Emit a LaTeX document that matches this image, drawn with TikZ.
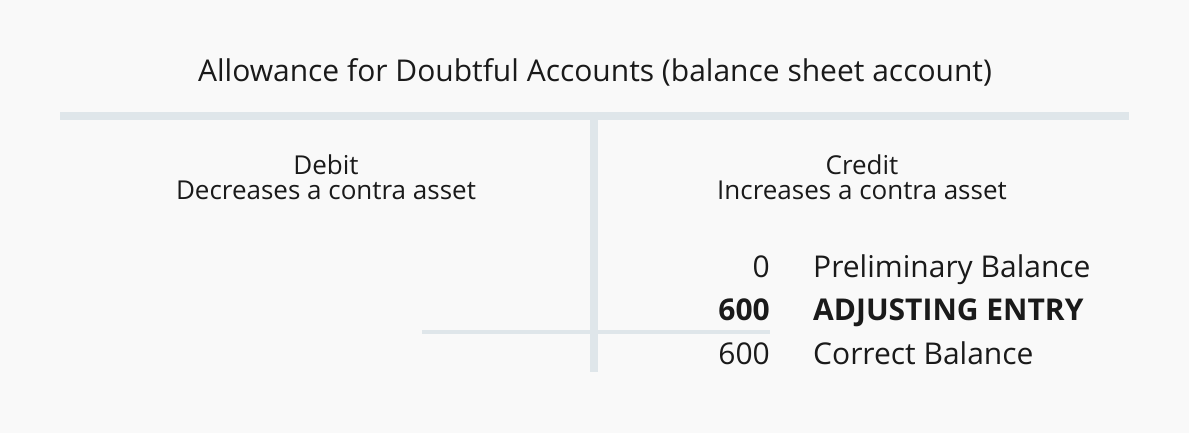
\documentclass[tikz,border=0pt]{standalone}
\usepackage{fontspec}
\setmainfont{Open Sans}
\definecolor{pagebg}{HTML}{F9F9F9}
\definecolor{tacct}{HTML}{DFE6EA}
\definecolor{ink}{HTML}{1A1A1A}

\begin{document}
\begin{tikzpicture}[x=1pt,y=-1pt,
    tline/.style={color=tacct,line cap=butt},
    head/.style={anchor=base,inner sep=0pt,text=ink,font=\fontsize{26}{30}\selectfont},
    num/.style={anchor=base east,inner sep=0pt,text=ink,font=\fontsize{30}{36}\selectfont},
    lbl/.style={anchor=base west,inner sep=0pt,text=ink,font=\fontsize{30}{36}\selectfont}]
      \fill[pagebg] (0,0) rectangle (1189,433);
      \useasboundingbox (0,0) rectangle (1189,433);
      % the T
      \coordinate (topleft) at (60,116);
      \coordinate (topright) at (1129,116);
      \coordinate (stemtop) at (594,112);
      \coordinate (stembot) at (594,372);
      \coordinate (sumleft) at (422,332);
      \coordinate (sumright) at (770,332);
      \draw[tline,line width=8pt] (topleft) -- (topright);
      \draw[tline,line width=8pt] (stemtop) -- (stembot);
      \draw[tline,line width=4pt] (sumleft) -- (sumright);
      % headings
      \node[head,font=\fontsize{30}{36}\selectfont] (title) at (595,82)
        {Allowance for Doubtful Accounts (balance sheet account)};
      \node[head] (debit) at (326,175) {Debit};
      \node[head] (debitnote) at (326,200) {Decreases a contra asset};
      \node[head] (credit) at (862,175) {Credit};
      \node[head] (creditnote) at (862,200) {Increases a contra asset};
      % credit side entries
      \node[num] (prelimamt) at (770,277) {0};
      \node[lbl] (prelim) at (813,277) {Preliminary Balance};
      \node[num,font=\fontsize{30}{36}\selectfont\bfseries] (adjamt) at (770,320) {600};
      \node[lbl,font=\fontsize{30}{36}\selectfont\bfseries] (adj) at (813,320) {ADJUSTING ENTRY};
      \node[num] (corramt) at (770,364) {600};
      \node[lbl] (corr) at (813,364) {Correct Balance};
    \end{tikzpicture}
\end{document}
